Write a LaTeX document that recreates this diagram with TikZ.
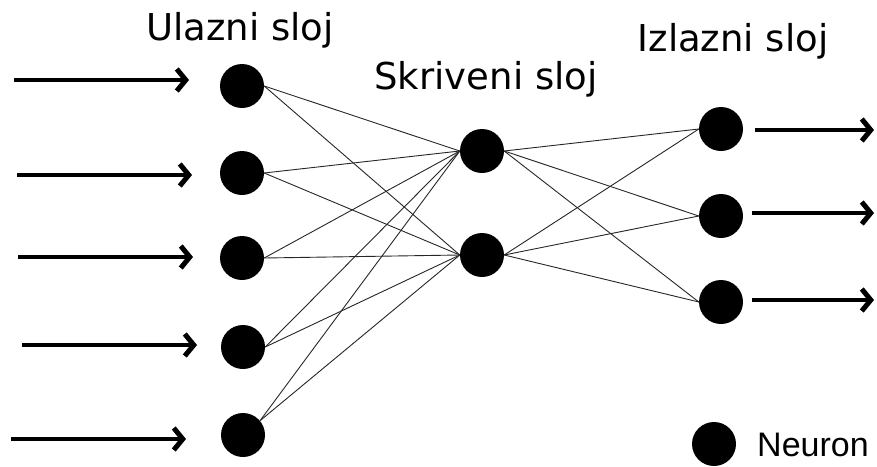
\documentclass[tikz,border=0pt]{standalone}
\usepackage{fontspec}
\setmainfont{DejaVu Sans}
\newfontfamily\arialf{Liberation Sans}
\usetikzlibrary{arrows.meta}
\begin{document}
\begin{tikzpicture}[x=1pt,y=-1pt,
  neuron/.style={circle,fill=black,minimum size=44pt,inner sep=0pt},
  conn/.style={draw=black!85,line width=0.9pt},
  io/.style={line width=4.6pt,-{Straight Barb[length=9pt,width=22pt,line width=5pt]}},
  layerlabel/.style={font=\fontsize{37}{40}\selectfont,anchor=base,inner sep=0pt}]
\useasboundingbox (0,0) rectangle (877,466);
% labels
\node[layerlabel] (lu) at (240,40) {Ulazni sloj};
\node[layerlabel] (ls) at (486,89) {Skriveni sloj};
\node[layerlabel] (li) at (733,51) {Izlazni sloj};
% neurons
\node[neuron] (a1) at (242,86) {};
\node[neuron] (a2) at (242,173) {};
\node[neuron] (a3) at (242,258) {};
\node[neuron] (a4) at (243,347) {};
\node[neuron] (a5) at (243,435) {};
\node[neuron] (h1) at (482,151) {};
\node[neuron] (h2) at (482,255) {};
\node[neuron] (o1) at (721,129) {};
\node[neuron] (o2) at (721,216) {};
\node[neuron] (o3) at (721,302) {};
% connections
\foreach \i in {a1,a2,a3,a4}{
  \draw[conn] (\i.east) -- (h1.west);
  \draw[conn] (\i.east) -- (h2.west);
}
\draw[conn] (a5.40) -- (h1.west);
\draw[conn] (a5.40) -- (h2.west);
\foreach \j in {o1,o2,o3}{
  \draw[conn] (h1.east) -- (\j.west);
  \draw[conn] (h2.east) -- (\j.west);
}
% input arrows
\coordinate (s1) at (14,80);  \coordinate (e1) at (189,80);
\coordinate (s2) at (17,175); \coordinate (e2) at (192,175);
\coordinate (s3) at (18,257); \coordinate (e3) at (193,257);
\coordinate (s4) at (22,345); \coordinate (e4) at (197,345);
\coordinate (s5) at (11,439); \coordinate (e5) at (186,439);
\foreach \k in {1,...,5}{ \draw[io] (s\k) -- (e\k); }
% output arrows
\coordinate (t1) at (755,130); \coordinate (f1) at (874,130);
\coordinate (t2) at (752,213); \coordinate (f2) at (874,213);
\coordinate (t3) at (752,300); \coordinate (f3) at (874,300);
\foreach \k in {1,2,3}{ \draw[io] (t\k) -- (f\k); }
% legend
\node[neuron] (leg) at (714,444) {};
\node[font=\arialf\fontsize{34}{40}\selectfont,anchor=base west,inner sep=0pt] (legt) at (757,456) {Neuron};
\end{tikzpicture}
\end{document}
